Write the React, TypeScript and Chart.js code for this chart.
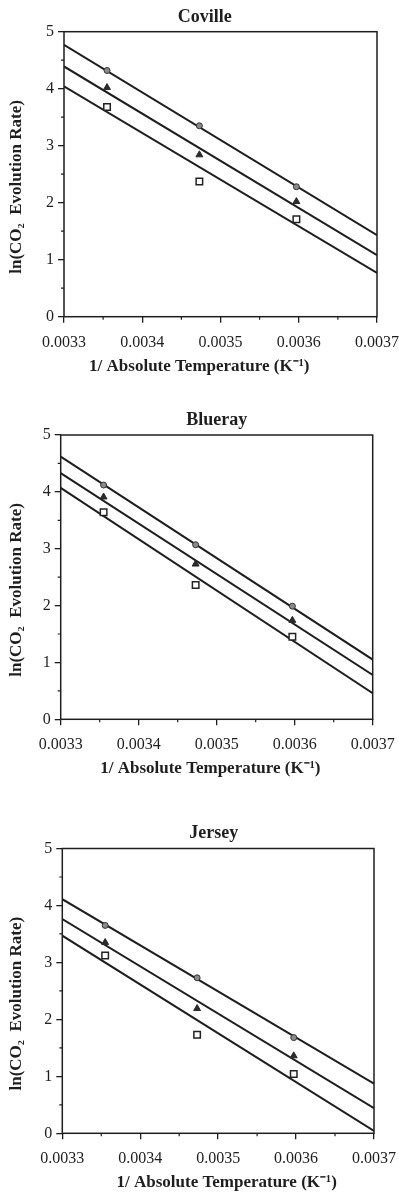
import React, { useEffect, useRef } from "react";
import { Chart, registerables } from "chart.js";

Chart.register(...registerables);

// ---------- data ----------
const tempX = [0.003355, 0.003473, 0.003597];
const fitX = [0.0033, 0.0037];
const xTicks = [0.0033, 0.0034, 0.0035, 0.0036, 0.0037];
const yTicks = [0, 1, 2, 3, 4, 5];

const covilleCircle = [4.32, 3.35, 2.28];
const covilleTriangle = [4.02, 2.84, 2.02];
const covilleSquare = [3.68, 2.37, 1.71];
const covilleFitTop = [4.77, 1.43];
const covilleFitMid = [4.39, 1.08];
const covilleFitBot = [4.04, 0.77];

const bluerayCircle = [4.12, 3.07, 1.99];
const bluerayTriangle = [3.91, 2.73, 1.74];
const bluraySquare = [3.64, 2.36, 1.45];
const bluerayFitTop = [4.62, 1.05];
const bluerayFitMid = [4.33, 0.78];
const bluerayFitBot = [4.07, 0.46];

const jerseyCircle = [3.65, 2.73, 1.68];
const jerseyTriangle = [3.35, 2.19, 1.36];
const jerseySquare = [3.12, 1.73, 1.04];
const jerseyFitTop = [4.11, 0.87];
const jerseyFitMid = [3.76, 0.44];
const jerseyFitBot = [3.47, 0.04];

const xTitle = "1/ Absolute Temperature (K\u207B\u00B9)";
const yTitle = "ln(CO\u2082  Evolution Rate)";

const INK = "#1e1e1e";
const SERIF = "'Liberation Serif', 'Times New Roman', serif";

const pts = (xs: number[], ys: number[]) => xs.map((x, i) => ({ x, y: ys[i] }));
// shift a centred label by padding it with spaces (positive = right)
const shift = (s: string, n: number) => (n > 0 ? " ".repeat(n) + s : s + " ".repeat(-n));

const framePlugin = {
  id: "frame",
  afterDraw(chart: any) {
    const { ctx, chartArea: a, scales } = chart;
    ctx.save();
    ctx.strokeStyle = INK;
    ctx.lineWidth = 1.5;
    ctx.strokeRect(a.left, a.top, a.right - a.left, a.bottom - a.top);
    ctx.lineWidth = 1.2;
    ctx.beginPath();
    for (let i = 0; i < xTicks.length - 1; i++) {
      const px = scales.x.getPixelForValue((xTicks[i] + xTicks[i + 1]) / 2);
      ctx.moveTo(px, a.bottom);
      ctx.lineTo(px, a.bottom + 3);
    }
    for (let i = 0; i < yTicks.length - 1; i++) {
      const py = scales.y.getPixelForValue((yTicks[i] + yTicks[i + 1]) / 2);
      ctx.moveTo(a.left, py);
      ctx.lineTo(a.left - 3, py);
    }
    ctx.stroke();
    ctx.restore();
  },
};

type PanelProps = {
  title: string;
  titleShift: number;
  xTitleShift: number;
  yTitleShift: number;
  top: number;
  height: number;
  plotLeft: number;
  plotRight: number;
  plotTop: number;
  plotBottom: number;
  titleCenter: number;
  xTitleCenter: number;
  circle: number[];
  triangle: number[];
  square: number[];
  fitTop: number[];
  fitMid: number[];
  fitBot: number[];
};

function Panel(p: PanelProps) {
  const ref = useRef<HTMLCanvasElement>(null);
  useEffect(() => {
    const titleLH = 18 * 1.2;
    const axisLH = 17 * 1.2;
    const fitLine = (ys: number[]) => ({
      data: pts(fitX, ys),
      showLine: true,
      borderColor: INK,
      borderWidth: 2,
      pointRadius: 0,
      order: 2,
    });
    const chart = new Chart(ref.current as HTMLCanvasElement, {
      type: "scatter",
      data: {
        datasets: [
          fitLine(p.fitTop),
          fitLine(p.fitMid),
          fitLine(p.fitBot),
          {
            data: pts(tempX, p.circle),
            pointStyle: "circle",
            pointRadius: 3,
            backgroundColor: "#8a8a8a",
            borderColor: "#333",
            borderWidth: 1,
            order: 1,
          },
          {
            data: pts(tempX, p.triangle),
            pointStyle: "triangle",
            pointRadius: 4,
            backgroundColor: "#2a2a2a",
            borderColor: "#2a2a2a",
            borderWidth: 1,
            order: 1,
          },
          {
            data: pts(tempX, p.square),
            pointStyle: "rect",
            pointRadius: 4.6,
            backgroundColor: "#ffffff",
            borderColor: "#222",
            borderWidth: 1.5,
            order: 1,
          },
        ],
      } as any,
      options: {
        animation: false,
        responsive: false,
        events: [],
        layout: { padding: { left: 0, right: 399 - p.plotRight, top: 0, bottom: 0 } },
        plugins: {
          legend: { display: false },
          tooltip: { enabled: false },
          title: {
            display: true,
            fullSize: false,
            text: shift(p.title, p.titleShift),
            color: INK,
            font: { family: SERIF, size: 18, weight: "bold", lineHeight: 1.2 },
            padding: {
              top: p.titleCenter - titleLH / 2,
              bottom: p.plotTop - (p.titleCenter + titleLH / 2),
            },
          },
        },
        scales: {
          x: {
            type: "linear",
            min: xTicks[0],
            max: xTicks[xTicks.length - 1],
            afterBuildTicks: (s: any) => {
              s.ticks = xTicks.map((v) => ({ value: v }));
            },
            afterFit: (s: any) => {
              s.height = p.height - p.plotBottom;
              s.paddingLeft = 0;
              s.paddingRight = 0;
            },
            border: { display: false },
            grid: { drawOnChartArea: false, drawTicks: true, tickLength: 6, color: INK, lineWidth: 1.3 },
            ticks: {
              color: INK,
              padding: 10,
              maxRotation: 0,
              autoSkip: false,
              font: { family: SERIF, size: 16 },
              callback: (v: any) => Number(v).toFixed(4),
            },
            title: {
              display: true,
              text: shift(xTitle, p.xTitleShift),
              color: INK,
              font: { family: SERIF, size: 17, weight: "bold", lineHeight: 1.2 },
              padding: { top: 0, bottom: p.height - p.xTitleCenter - axisLH / 2 },
            },
          },
          y: {
            type: "linear",
            min: yTicks[0],
            max: yTicks[yTicks.length - 1],
            afterBuildTicks: (s: any) => {
              s.ticks = yTicks.map((v) => ({ value: v }));
            },
            afterFit: (s: any) => {
              s.width = p.plotLeft;
              s.paddingTop = 0;
              s.paddingBottom = 0;
            },
            border: { display: false },
            grid: { drawOnChartArea: false, drawTicks: true, tickLength: 6, color: INK, lineWidth: 1.3 },
            ticks: {
              color: INK,
              padding: 4,
              autoSkip: false,
              font: { family: SERIF, size: 16 },
              callback: (v: any) => String(v),
            },
            title: {
              display: true,
              text: shift(yTitle, p.yTitleShift),
              color: INK,
              font: { family: SERIF, size: 17, weight: "bold", lineHeight: 1.2 },
              padding: { top: 6, bottom: 0 },
            },
          },
        },
      } as any,
      plugins: [framePlugin],
    });
    return () => chart.destroy();
  }, []);
  return (
    <canvas
      ref={ref}
      width={399}
      height={p.height}
      style={{ position: "absolute", left: 0, top: p.top, display: "block" }}
    />
  );
}

export default function App() {
  useEffect(() => {
    document.body.style.margin = "0";
    document.body.style.background = "#ffffff";
  }, []);
  return (
    <div style={{ position: "relative", width: 399, height: 1195, background: "#fff", overflow: "hidden" }}>
      <Panel
        title="Coville"
        titleShift={-7}
        xTitleShift={-10}
        yTitleShift={-6}
        top={0}
        height={390}
        plotLeft={64}
        plotRight={377}
        plotTop={31.7}
        plotBottom={316.7}
        titleCenter={17}
        xTitleCenter={367}
        circle={covilleCircle}
        triangle={covilleTriangle}
        square={covilleSquare}
        fitTop={covilleFitTop}
        fitMid={covilleFitMid}
        fitBot={covilleFitBot}
      />
      <Panel
        title="Blueray"
        titleShift={0}
        xTitleShift={-3}
        yTitleShift={-6}
        top={390}
        height={400}
        plotLeft={60.7}
        plotRight={372.7}
        plotTop={45}
        plotBottom={329.3}
        titleCenter={30}
        xTitleCenter={378.3}
        circle={bluerayCircle}
        triangle={bluerayTriangle}
        square={bluraySquare}
        fitTop={bluerayFitTop}
        fitMid={bluerayFitMid}
        fitBot={bluerayFitBot}
      />
      <Panel
        title="Jersey"
        titleShift={-2}
        xTitleShift={4}
        yTitleShift={-6}
        top={790}
        height={405}
        plotLeft={62.3}
        plotRight={374}
        plotTop={58.5}
        plotBottom={343.3}
        titleCenter={43.5}
        xTitleCenter={393}
        circle={jerseyCircle}
        triangle={jerseyTriangle}
        square={jerseySquare}
        fitTop={jerseyFitTop}
        fitMid={jerseyFitMid}
        fitBot={jerseyFitBot}
      />
    </div>
  );
}
